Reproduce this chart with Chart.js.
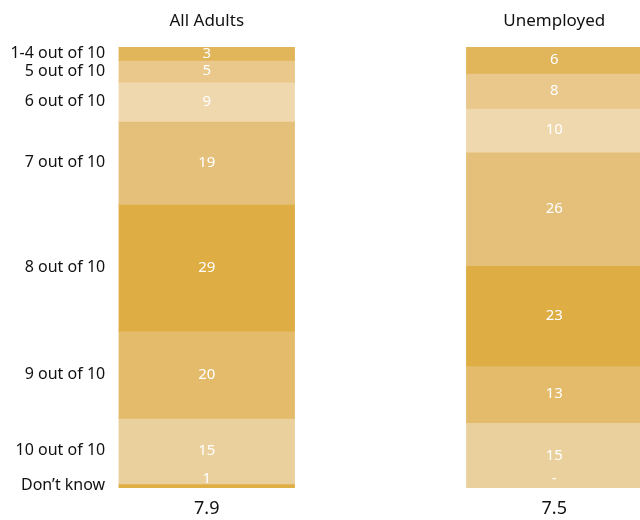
<!DOCTYPE html>
<html>
<head>
<meta charset="utf-8">
<script src="https://cdn.jsdelivr.net/npm/chart.js@4/dist/chart.umd.min.js"></script>
<style>
  html, body { margin: 0; padding: 0; background: #fff; overflow: hidden; }
  #wrap { width: 728px; height: 520px; }
</style>
</head>
<body>
<div id="wrap"><canvas id="scoreChart"></canvas></div>
<script>
const groups = ['All Adults', 'Unemployed'];
const scoreLabels = ['1-4 out of 10', '5 out of 10', '6 out of 10', '7 out of 10',
  '8 out of 10', '9 out of 10', '10 out of 10', 'Don\u2019t know'];
const allAdults = [3, 5, 9, 19, 29, 20, 15, 1];
const unemployed = [6, 8, 10, 26, 23, 13, 15, 0];
const meanScores = ['7.9', '7.5'];
const segmentColors = ['#e1b55a', '#eac78a', '#f0d8ae', '#e5c07a',
  '#dead44', '#e3bb6a', '#ead09c', '#dfae45'];

const datasets = scoreLabels.map((label, i) => ({
  label: label,
  data: [allAdults[i], unemployed[i]],
  backgroundColor: segmentColors[i],
  borderWidth: 0,
  inflateAmount: 0.6
}));

// values inside segments, score names on the left, group titles and means
const annotate = {
  id: 'annotate',
  afterDatasetsDraw(chart) {
    const ctx = chart.ctx;
    const area = chart.chartArea;
    const last = datasets.length - 1;
    ctx.save();
    ctx.textBaseline = 'middle';

    datasets.forEach((ds, i) => {
      const meta = chart.getDatasetMeta(i);
      meta.data.forEach((bar, j) => {
        const top = Math.min(bar.y, bar.base);
        const bottom = Math.max(bar.y, bar.base);
        let cy = (top + bottom) / 2;
        if (i === last) cy = Math.min(cy, area.bottom - 9);
        const v = ds.data[j];
        ctx.fillStyle = '#ffffff';
        ctx.font = '15px "Noto Sans"';
        ctx.textAlign = 'center';
        ctx.fillText(v === 0 ? '-' : String(v), bar.x, cy);

        if (j === 0) {
          ctx.fillStyle = '#111111';
          ctx.font = '16px "Noto Sans"';
          ctx.textAlign = 'right';
          ctx.fillText(ds.label, bar.x - bar.width / 2 - 14, (top + bottom) / 2);
        }
      });
    });

    const firstMeta = chart.getDatasetMeta(0);
    firstMeta.data.forEach((bar, j) => {
      ctx.fillStyle = '#111111';
      ctx.textAlign = 'center';
      ctx.font = '17px "Noto Sans"';
      ctx.fillText(groups[j], bar.x, 21);
      ctx.font = '18px "Noto Sans"';
      ctx.fillText(meanScores[j], bar.x, area.bottom + 21);
    });
    ctx.restore();
  }
};

new Chart(document.getElementById('scoreChart'), {
  type: 'bar',
  data: { labels: groups, datasets: datasets },
  plugins: [annotate],
  options: {
    responsive: true,
    maintainAspectRatio: false,
    animation: false,
    layout: { padding: { top: 47, bottom: 32, left: 33, right: 0 } },
    datasets: { bar: { barPercentage: 1, categoryPercentage: 0.504 } },
    plugins: { legend: { display: false }, tooltip: { enabled: false } },
    scales: {
      x: { stacked: true, display: false },
      y: { stacked: true, display: false, reverse: true, min: 0, max: 101 }
    }
  }
});
</script>
</body>
</html>
